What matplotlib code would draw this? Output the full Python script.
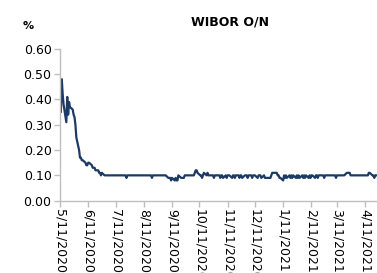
import numpy as np
import pandas as pd
import matplotlib
matplotlib.use('Agg')
import matplotlib.pyplot as plt
import matplotlib.dates as mdates

# WIBOR O/N daily fixings (business days)
may_2020 = [0.40, 0.35, 0.48, 0.42, 0.38, 0.31, 0.41, 0.34, 0.39, 0.37,
            0.36, 0.34, 0.33, 0.30, 0.25]
jun_2020 = [0.20, 0.17, 0.17, 0.16, 0.16, 0.15, 0.14, 0.14, 0.15, 0.15,
            0.14, 0.13, 0.13, 0.13, 0.12, 0.12, 0.11, 0.11, 0.10, 0.11,
            0.10, 0.10]
jul_2020 = [0.10, 0.10, 0.10, 0.10, 0.10, 0.10, 0.10, 0.10, 0.10, 0.10,
            0.10, 0.10, 0.10, 0.10, 0.10, 0.10, 0.09, 0.10, 0.10, 0.10,
            0.10, 0.10, 0.10]
aug_2020 = [0.10, 0.10, 0.10, 0.10, 0.10, 0.10, 0.10, 0.10, 0.10, 0.10,
            0.10, 0.10, 0.10, 0.09, 0.10, 0.10, 0.10, 0.10, 0.10, 0.10,
            0.10]
sep_2020 = [0.10, 0.10, 0.10, 0.10, 0.09, 0.09, 0.09, 0.08, 0.09, 0.08,
            0.09, 0.08, 0.08, 0.10, 0.09, 0.09, 0.09, 0.09, 0.10, 0.10,
            0.10, 0.10]
oct_2020 = [0.10, 0.10, 0.10, 0.11, 0.12, 0.12, 0.11, 0.10, 0.10, 0.09,
            0.10, 0.11, 0.10, 0.11, 0.10, 0.10, 0.10, 0.10, 0.09, 0.10,
            0.10, 0.10]
nov_2020 = [0.10, 0.09, 0.10, 0.10, 0.09, 0.10, 0.09, 0.10, 0.10, 0.10,
            0.09, 0.10, 0.10, 0.09, 0.10, 0.10, 0.09, 0.10, 0.10, 0.09,
            0.10]
dec_2020 = [0.10, 0.10, 0.09, 0.10, 0.10, 0.09, 0.10, 0.10, 0.10, 0.09,
            0.10, 0.10, 0.10, 0.09, 0.10, 0.09, 0.09, 0.09, 0.09, 0.09,
            0.10, 0.11, 0.11]
jan_2021 = [0.11, 0.11, 0.10, 0.10, 0.09, 0.09, 0.08, 0.10, 0.09, 0.10,
            0.09, 0.10, 0.09, 0.10, 0.09, 0.10, 0.09, 0.10, 0.09, 0.10,
            0.09]
feb_2021 = [0.10, 0.09, 0.10, 0.09, 0.10, 0.09, 0.10, 0.09, 0.10, 0.10,
            0.09, 0.10, 0.10, 0.09, 0.10, 0.10, 0.10, 0.10, 0.09, 0.10]
mar_2021 = [0.10, 0.10, 0.10, 0.10, 0.10, 0.10, 0.10, 0.09, 0.10, 0.10,
            0.10, 0.10, 0.10, 0.10, 0.10, 0.11, 0.11, 0.11, 0.11, 0.10,
            0.10, 0.10, 0.10]
apr_2021 = [0.10, 0.10, 0.10, 0.10, 0.10, 0.10, 0.10, 0.10, 0.10, 0.10,
            0.11, 0.11, 0.10, 0.10, 0.09, 0.10, 0.10]

values = (may_2020 + jun_2020 + jul_2020 + aug_2020 + sep_2020 + oct_2020 +
          nov_2020 + dec_2020 + jan_2021 + feb_2021 + mar_2021 + apr_2021)
dates = pd.bdate_range('2020-05-11', '2021-04-23')

title = 'WIBOR O/N'
unit = '%'
line_color = '#1B3A64'
axis_color = '#BFBFBF'

fig = plt.figure(figsize=(3.77, 2.73), dpi=100)
ax = fig.add_axes([0.159, 0.265, 0.841, 0.556])

ax.plot(dates, values, color=line_color, linewidth=1.6, solid_joinstyle='round')

ax.set_ylim(0, 0.6)
ax.set_yticks(np.arange(0, 0.61, 0.1))
ax.yaxis.set_major_formatter(plt.FuncFormatter(lambda v, p: f'{v:.2f}'))
ax.set_xlim(pd.Timestamp('2020-05-11'), pd.Timestamp('2021-04-24'))
ax.xaxis.set_major_locator(mdates.MonthLocator(bymonthday=11))
ax.xaxis.set_major_formatter(plt.FuncFormatter(
    lambda v, p: (lambda d: f'{d.month}/{d.day}/{d.year}')(mdates.num2date(v))))

for s in ['top', 'right']:
    ax.spines[s].set_visible(False)
for s in ['left', 'bottom']:
    ax.spines[s].set_color(axis_color)
    ax.spines[s].set_linewidth(1.0)

ax.tick_params(axis='both', colors=axis_color, length=4, width=1.0,
               labelcolor='#000000', labelsize=9)
ax.tick_params(axis='y', pad=2)
ax.tick_params(axis='x', pad=2)
for lbl in ax.get_xticklabels():
    lbl.set_rotation(-90)
    lbl.set_va('top')
    lbl.set_ha('center')

fig.text(0.61, 0.92, title, fontsize=9, fontweight='bold', ha='center', va='center')
fig.text(0.075, 0.905, unit, fontsize=8, fontweight='bold', ha='center', va='center')

fig.savefig('out.png', dpi=100)
